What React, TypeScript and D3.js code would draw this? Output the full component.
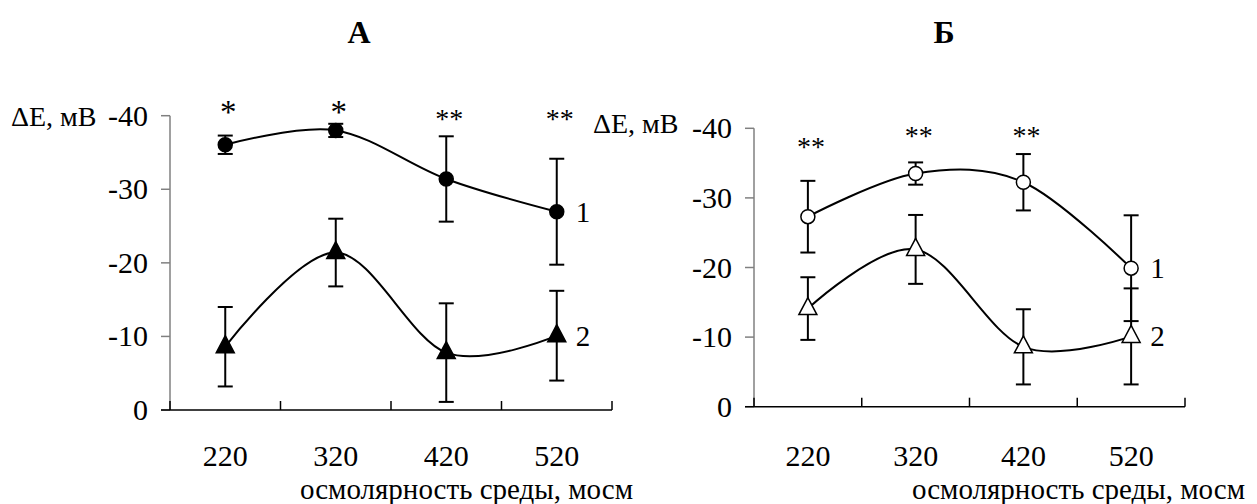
import React from "react";
import * as d3 from "d3";

// ---- data ----
const categories = ["220", "320", "420", "520"];
const yTicks = [0, -10, -20, -30, -40];
const yLabelText = "ΔE, мВ";
const xTitle = "осмолярность среды, мосм";

// Panel A
const a1Mean = [-36.05, -38.0, -31.4, -26.95];
const a1Err = [1.25, 0.9, 5.8, 7.2];
const a2Mean = [-8.6, -21.4, -7.8, -10.1];
const a2Err = [5.4, 4.6, 6.7, 6.1];
const aStars = ["*", "*", "**", "**"];
const aStarLevel = [-39.0, -39.0, -38.3, -38.3];

// Panel B
const b1Mean = [-27.3, -33.5, -32.25, -19.9];
const b1Err = [5.15, 1.6, 4.05, 7.6];
const b2Mean = [-14.1, -22.6, -8.6, -10.1];
const b2Err = [4.5, 4.95, 5.4, 6.9];
const bStars = ["**", "**", "**", ""];
const bStarLevel = [-36.0, -37.6, -37.6, -37.6];

const FONT = "'Liberation Serif', 'Times New Roman', serif";

type PanelProps = {
  title: string;
  titleX: number;
  x0: number;
  x1: number;
  yZero: number;
  yTop: number;
  s1: number[];
  e1: number[];
  s2: number[];
  e2: number[];
  stars: string[];
  starLevel: number[];
  open: boolean;
  yLabelX: number;
  yLabelBaseline: number;
  titleStart: number;
};

function Panel(p: PanelProps) {
  const x = d3.scaleBand<string>().domain(categories).range([p.x0, p.x1]).paddingInner(0).paddingOuter(0);
  const y = d3.scaleLinear().domain([0, -40]).range([p.yZero, p.yTop]);
  const cx = (c: string) => (x(c) as number) + x.bandwidth() / 2;
  const line = d3
    .line<number>()
    .x((_, i) => cx(categories[i]))
    .y((v) => y(v))
    .curve(d3.curveCatmullRom.alpha(0));
  const boundaries = d3.range(categories.length + 1).map((i) => p.x0 + i * x.bandwidth());
  const cap = 7.5;
  const tri = "M0,-11L9,6L-9,6Z";

  const series = [
    { m: p.s1, e: p.e1, kind: "circle", label: "1" },
    { m: p.s2, e: p.e2, kind: "tri", label: "2" },
  ];

  return (
    <g fontFamily={FONT} fill="#000">
      <text x={p.titleX} y={43} fontSize={32} fontWeight="bold" textAnchor="middle">
        {p.title}
      </text>
      {/* y axis */}
      <line x1={p.x0} x2={p.x0} y1={y(-40)} y2={y(0)} stroke="#808080" strokeWidth={1.5} />
      {yTicks.map((t) => (
        <g key={t}>
          <line x1={p.x0 - 9} x2={p.x0} y1={y(t)} y2={y(t)} stroke="#808080" strokeWidth={1.5} />
          <text x={p.x0 - 22} y={y(t) + 10} fontSize={30} textAnchor="end">
            {t === 0 ? "0" : "-" + Math.abs(t)}
          </text>
        </g>
      ))}
      <text x={p.yLabelX} y={p.yLabelBaseline} fontSize={28}>
        {yLabelText}
      </text>
      {/* x axis */}
      <line x1={p.x0 - 9} x2={p.x1} y1={y(0)} y2={y(0)} stroke="#000" strokeWidth={1.5} />
      {boundaries.map((bx, i) => (
        <line key={i} x1={bx} x2={bx} y1={y(0)} y2={y(0) - 9} stroke="#000" strokeWidth={1.5} />
      ))}
      {categories.map((c) => (
        <text key={c} x={cx(c)} y={466} fontSize={30} textAnchor="middle">
          {c}
        </text>
      ))}
      <text x={p.titleStart} y={499} fontSize={29}>
        {xTitle}
      </text>
      {/* lines */}
      {series.map((s, k) => (
        <path key={k} d={line(s.m) || ""} fill="none" stroke="#000" strokeWidth={2} />
      ))}
      {/* error bars */}
      {series.map((s, k) =>
        s.m.map((v, i) => {
          const xc = cx(categories[i]);
          const top = y(v - s.e[i]);
          const bot = y(v + s.e[i]);
          return (
            <g key={k + "-" + i} stroke="#000" strokeWidth={2}>
              <line x1={xc} x2={xc} y1={top} y2={bot} />
              <line x1={xc - cap} x2={xc + cap} y1={top} y2={top} />
              <line x1={xc - cap} x2={xc + cap} y1={bot} y2={bot} />
            </g>
          );
        })
      )}
      {/* markers */}
      {series.map((s, k) =>
        s.m.map((v, i) => {
          const xc = cx(categories[i]);
          const yc = y(v);
          return s.kind === "circle" ? (
            <circle
              key={k + "m" + i}
              cx={xc}
              cy={yc}
              r={7}
              fill={p.open ? "#fff" : "#000"}
              stroke="#000"
              strokeWidth={1.5}
            />
          ) : (
            <path
              key={k + "m" + i}
              d={tri}
              transform={`translate(${xc},${yc})`}
              fill={p.open ? "#fff" : "#000"}
              stroke="#000"
              strokeWidth={1.5}
            />
          );
        })
      )}
      {/* series labels */}
      {series.map((s, k) => (
        <text key={"l" + k} x={cx(categories[3]) + 19} y={y(s.m[3]) + 10} fontSize={29}>
          {s.label}
        </text>
      ))}
      {/* significance stars */}
      {p.stars.map((st, i) => (
        <text
          key={"s" + i}
          x={cx(categories[i]) + 3}
          y={y(p.starLevel[i])}
          fontSize={st.length === 1 ? 33 : 28}
          textAnchor="middle"
        >
          {st}
        </text>
      ))}
    </g>
  );
}

export default function App() {
  return (
    <svg
      width={1257}
      height={504}
      style={{ position: "absolute", left: 0, top: 0, background: "#fff" }}
    >
      <rect width={1257} height={504} fill="#fff" />
      <Panel
        title="А"
        titleX={359}
        x0={170}
        x1={612}
        yZero={410}
        yTop={115.7}
        s1={a1Mean}
        e1={a1Err}
        s2={a2Mean}
        e2={a2Err}
        stars={aStars}
        starLevel={aStarLevel}
        open={false}
        yLabelX={11}
        yLabelBaseline={126}
        titleStart={300}
      />
      <Panel
        title="Б"
        titleX={944}
        x0={754}
        x1={1185}
        yZero={406.7}
        yTop={128.3}
        s1={b1Mean}
        e1={b1Err}
        s2={b2Mean}
        e2={b2Err}
        stars={bStars}
        starLevel={bStarLevel}
        open={true}
        yLabelX={593}
        yLabelBaseline={133}
        titleStart={912}
      />
    </svg>
  );
}
